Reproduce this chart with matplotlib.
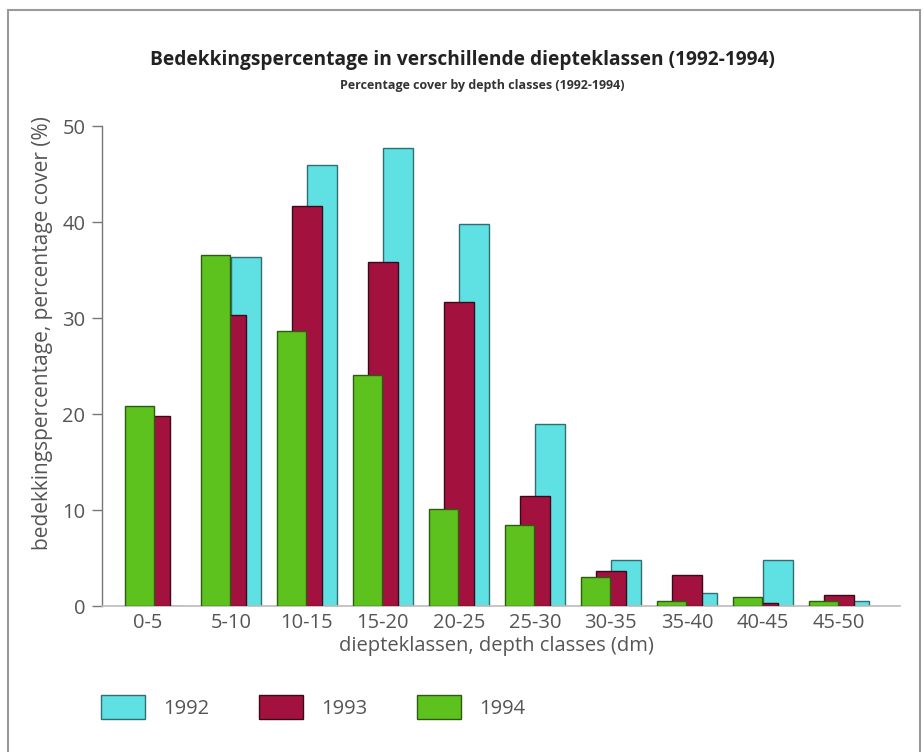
import numpy as np
import matplotlib
matplotlib.use("Agg")
import matplotlib.pyplot as plt
from matplotlib.patches import Rectangle, Patch

plt.rcParams['font.family'] = ['Open Sans', 'DejaVu Sans']

categories = ["0-5", "5-10", "10-15", "15-20", "20-25", "25-30", "30-35", "35-40", "40-45", "45-50"]
years = ["1992", "1993", "1994"]
v1992 = [0.0, 36.4, 45.9, 47.7, 39.8, 19.0, 4.8, 1.4, 4.8, 0.5]
v1993 = [19.8, 30.3, 41.7, 35.8, 31.7, 11.5, 3.6, 3.2, 0.3, 1.1]
v1994 = [20.8, 36.6, 28.6, 24.1, 10.1, 8.4, 3.0, 0.5, 0.9, 0.5]

colors = {"1992": "#5fe0e2", "1993": "#a3113f", "1994": "#5ec21e"}
edges = {"1992": "#2f6f72", "1993": "#3a0a1a", "1994": "#2f5a12"}

fig = plt.figure(figsize=(9.24, 7.52), dpi=100)
ax = fig.add_axes([102/924, 1-606/752, (900-102)/924, (606-126)/752])

x = np.arange(len(categories))
w = 0.39
off = 0.2
series = [("1992", v1992, 2), ("1993", v1993, 1), ("1994", v1994, 0)]
for z, (yr, vals, k) in enumerate(series):
    ax.bar(x + k*off, vals, width=w, align='edge', color=colors[yr],
           edgecolor=edges[yr], linewidth=1.0, zorder=2+z)

# tick positions: center of the visible cluster
ticks = []
for i in range(len(categories)):
    right = 2*off + w if v1992[i] > 0 else off + w
    ticks.append(i + right/2)
ax.set_xticks(ticks)
ax.set_xticklabels(categories)
ax.tick_params(axis='x', length=0, pad=5, labelsize=14.5, labelcolor='#555555')
ax.set_xlim(-0.30, 10.2)
ax.set_ylim(0, 50)
ax.set_yticks([0, 10, 20, 30, 40, 50])
ax.tick_params(axis='y', length=7, width=1, color='#777777', direction='out',
               labelsize=14.5, labelcolor='#555555', pad=5)
for s in ['top', 'right']:
    ax.spines[s].set_visible(False)
ax.spines['left'].set_color('#777777')
ax.spines['bottom'].set_color('#bbbbbb')
ax.spines['left'].set_linewidth(1.0)
ax.spines['bottom'].set_linewidth(1.2)

ax.set_xlabel("diepteklassen, depth classes (dm)", fontsize=14.5, color='#555555')
ax.xaxis.set_label_coords((496-102)/798, -(636-606)/480)
ax.set_ylabel("bedekkingspercentage, percentage cover (%)", fontsize=15, color='#555555')
ax.yaxis.set_label_coords(-(102-53)/798, (606-333)/480)

fig.text(0.5, 1-60/752, "Bedekkingspercentage in verschillende diepteklassen (1992-1994)",
         ha='center', va='center', fontsize=13.8, fontweight='bold', color='#222222')
fig.text(482/924, 1-85/752, "Percentage cover by depth classes (1992-1994)",
         ha='center', va='center', fontsize=9, fontweight='bold', color='#333333')

handles = [Patch(facecolor=colors[y], edgecolor=edges[y], linewidth=1.0) for y in years]
leg = fig.legend(handles, years, loc='center left', bbox_to_anchor=(101/924, 1-707/752),
                 ncol=3, frameon=False, fontsize=14.5, handlelength=2.2, handleheight=1.45,
                 handletextpad=0.9, columnspacing=2.45, borderaxespad=0, borderpad=0)
for t in leg.get_texts():
    t.set_color('#555555')

fig.add_artist(Rectangle((8/924, -0.02), (920-8)/924, 1-10/752+0.02, transform=fig.transFigure,
                         fill=False, edgecolor='#9a9a9a', linewidth=1.5))

fig.savefig("out.png", dpi=100)
